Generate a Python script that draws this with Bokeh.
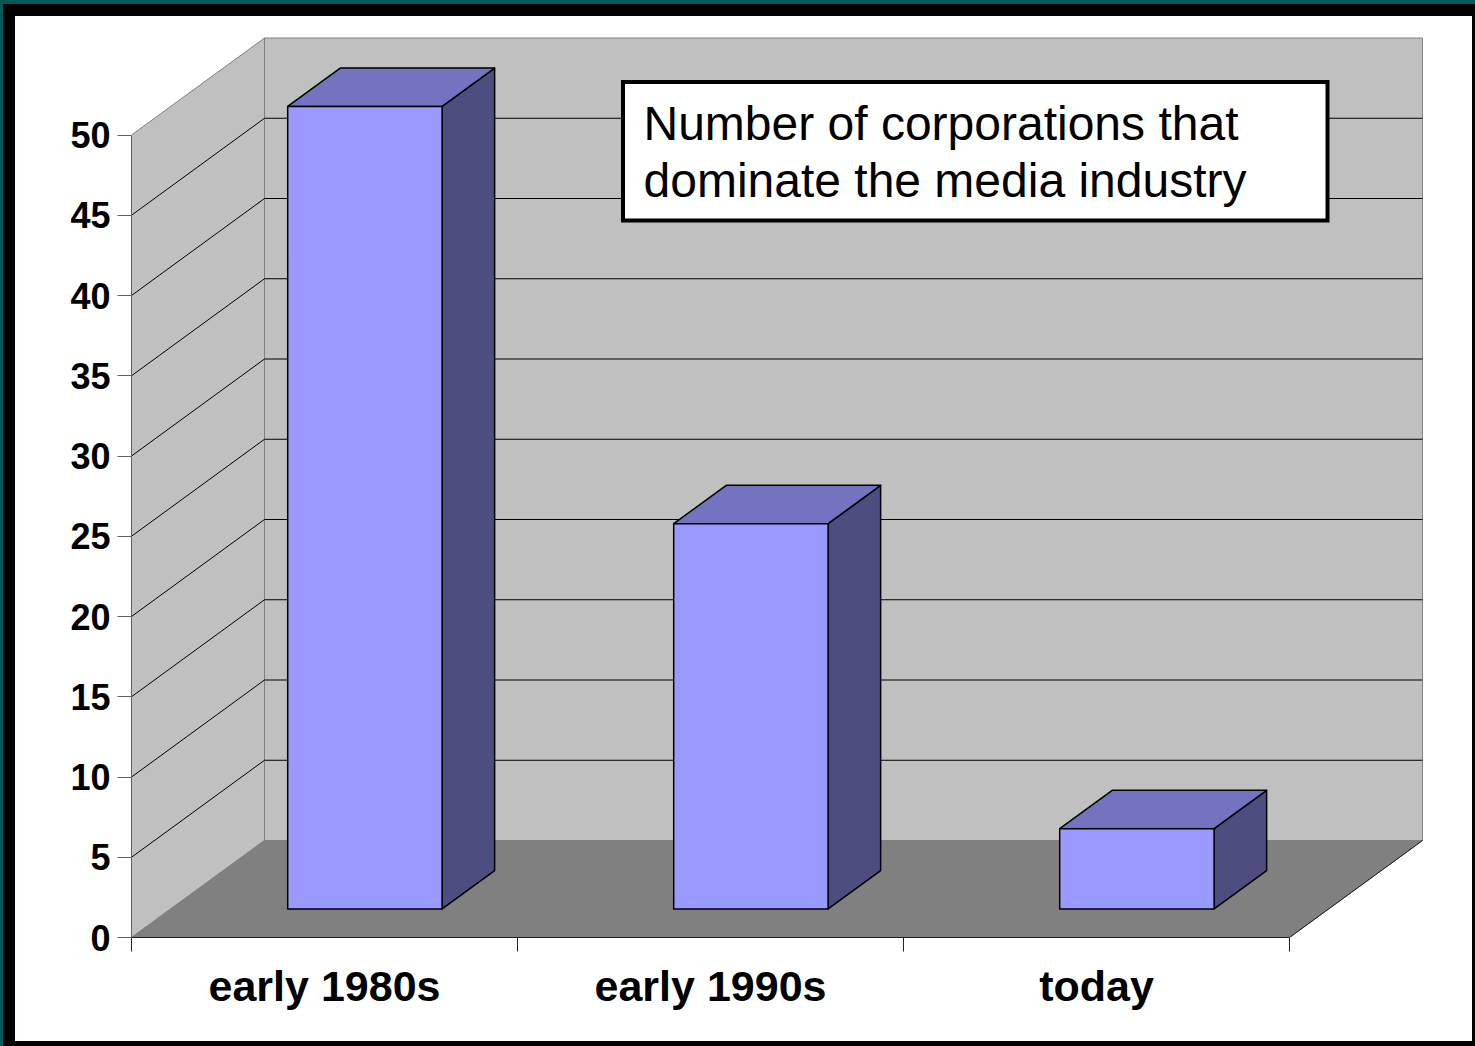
from bokeh.core.properties import value
from bokeh.embed import file_html
from bokeh.layouts import column
from bokeh.models import FixedTicker
from bokeh.plotting import figure
from bokeh.resources import INLINE

categories = ["early 1980s", "early 1990s", "today"]
corporations = [50, 24, 5]
value_ticks = [0, 5, 10, 15, 20, 25, 30, 35, 40, 45, 50]
note_lines = ["Number of corporations that", "dominate the media industry"]

# Page layout: a dark slide frame holds the white chart panel.
PAGE_W, PAGE_H = 1475, 1046
PANEL_LEFT, PANEL_TOP, PANEL_RIGHT, PANEL_BOTTOM = 15, 16, 1472, 1041
WIDTH, HEIGHT = PANEL_RIGHT - PANEL_LEFT, PANEL_BOTTOM - PANEL_TOP

# Positions below are page pixels; the panel offset is removed where the figure needs it.
ORIGIN_X, ORIGIN_Y = 131, 937
PX_PER_CATEGORY = 386.0
PX_PER_VALUE = 16.05
FRAME_RIGHT, FRAME_TOP = 1425, 36

# Oblique projection: how far a full step into the chart's depth moves a point.
DEPTH_X = 133 / PX_PER_CATEGORY
DEPTH_Y = 97 / PX_PER_VALUE
BAR_WIDTH = 0.4
BAR_DEPTH_FRONT = 0.295
BAR_DEPTH_BACK = 0.69
BAR_SHIFT = 0.003


def project(cat, val, depth):
    return cat + depth * DEPTH_X, val + depth * DEPTH_Y


def data_x(px):
    return (px - ORIGIN_X) / PX_PER_CATEGORY


def data_y(py):
    return (ORIGIN_Y - py) / PX_PER_VALUE


def polygon(corners):
    points = [project(*corner) for corner in corners]
    return [pt[0] for pt in points], [pt[1] for pt in points]


p = figure(
    width=WIDTH,
    height=HEIGHT,
    output_backend="svg",
    toolbar_location=None,
    x_range=(0, data_x(FRAME_RIGHT)),
    y_range=(0, data_y(FRAME_TOP)),
    min_border_left=ORIGIN_X - PANEL_LEFT,
    min_border_right=PANEL_RIGHT - FRAME_RIGHT,
    min_border_top=FRAME_TOP - PANEL_TOP,
    min_border_bottom=PANEL_BOTTOM - ORIGIN_Y,
    border_fill_color="#ffffff",
    background_fill_color=None,
    outline_line_color=None,
    margin=(PANEL_TOP, PAGE_W - PANEL_RIGHT, PAGE_H - PANEL_BOTTOM, PANEL_LEFT),
    styles={"background": "#ffffff"},
)
p.grid.visible = False

n = len(categories)
top_value = value_ticks[-1]
WALL = dict(fill_color="#c0c0c0", line_color="#808080", line_width=1)

# Back wall, side wall and floor.
xs, ys = polygon([(0, 0, 1), (n, 0, 1), (n, top_value, 1), (0, top_value, 1)])
p.patch(xs, ys, **WALL)
xs, ys = polygon([(0, 0, 0), (0, 0, 1), (0, top_value, 1), (0, top_value, 0)])
p.patch(xs, ys, **WALL)
xs, ys = polygon([(0, 0, 0), (n, 0, 0), (n, 0, 1), (0, 0, 1)])
p.patch(xs, ys, fill_color="#808080", line_color="#808080", line_width=1)
xs, ys = polygon([(n, 0, 0), (n, 0, 1)])
p.line(xs, ys, line_color="#1a1a1a", line_width=1)

# Gridlines run along the side wall, then across the back wall.
grid_xs, grid_ys = [], []
for tick in value_ticks[1:-1]:
    xs, ys = polygon([(0, tick, 0), (0, tick, 1), (n, tick, 1)])
    grid_xs.append(xs)
    grid_ys.append(ys)
p.multi_line(grid_xs, grid_ys, line_color="#000000", line_width=1)

# Each bar is a sheared box: front face, top face and right face.
BAR_LINE = dict(line_color="#000000", line_width=1.5, line_join="round")
for i, count in enumerate(corporations):
    left = i + 0.5 + BAR_SHIFT - BAR_WIDTH / 2
    right = left + BAR_WIDTH
    f, b = BAR_DEPTH_FRONT, BAR_DEPTH_BACK
    xs, ys = polygon([(right, 0, f), (right, 0, b), (right, count, b), (right, count, f)])
    p.patch(xs, ys, fill_color="#4d4d80", **BAR_LINE)
    xs, ys = polygon([(left, count, f), (right, count, f), (right, count, b), (left, count, b)])
    p.patch(xs, ys, fill_color="#7373bf", **BAR_LINE)
    xs, ys = polygon([(left, 0, f), (right, 0, f), (right, count, f), (left, count, f)])
    p.patch(xs, ys, fill_color="#9999ff", **BAR_LINE)

# Caption box over the back wall.
p.quad(
    left=[data_x(622.5)], right=[data_x(1327)],
    top=[data_y(81.5)], bottom=[data_y(220)],
    fill_color="#ffffff", line_color="#000000", line_width=4, line_join="miter",
)
p.text(
    x=[data_x(643), data_x(643)],
    y=[data_y(123), data_y(180)],
    text=note_lines,
    text_font=value("Liberation Sans"),
    text_font_size="48px",
    text_color="#000000",
    text_align="left",
    text_baseline="middle",
)

# Axes: category labels sit between the ticks, which mark the category boundaries.
xaxis = p.xaxis[0]
xaxis.ticker = FixedTicker(
    ticks=[i + 0.5 for i in range(n)],
    minor_ticks=list(range(n + 1)),
)
xaxis.major_label_overrides = {i + 0.5: name for i, name in enumerate(categories)}
xaxis.major_tick_in = 0
xaxis.major_tick_out = 0
xaxis.minor_tick_in = 0
xaxis.minor_tick_out = 14
xaxis.minor_tick_line_color = "#222222"
xaxis.axis_line_color = "#222222"
xaxis.bounds = (0, n)
xaxis.major_label_standoff = 10
xaxis.major_label_text_font = "Liberation Sans"
xaxis.major_label_text_font_style = "bold"
xaxis.major_label_text_font_size = "43px"
xaxis.major_label_text_color = "#000000"

yaxis = p.yaxis[0]
yaxis.ticker = FixedTicker(ticks=value_ticks)
yaxis.major_tick_in = 0
yaxis.major_tick_out = 14
yaxis.minor_tick_in = 0
yaxis.minor_tick_out = 0
yaxis.major_tick_line_color = "#606060"
yaxis.axis_line_color = "#606060"
yaxis.bounds = (0, top_value)
yaxis.major_label_standoff = 7
yaxis.major_label_text_font = "Liberation Sans"
yaxis.major_label_text_font_style = "bold"
yaxis.major_label_text_font_size = "36px"
yaxis.major_label_text_color = "#000000"

# Slide frame: black band with a thin teal edge along the top and left.
page = column(
    p,
    width=PAGE_W,
    height=PAGE_H,
    styles={"background": "#000000", "box-shadow": "inset 3px 4px 0 0 #005a5a"},
)

open("out.html", "w").write(file_html(page, INLINE))
